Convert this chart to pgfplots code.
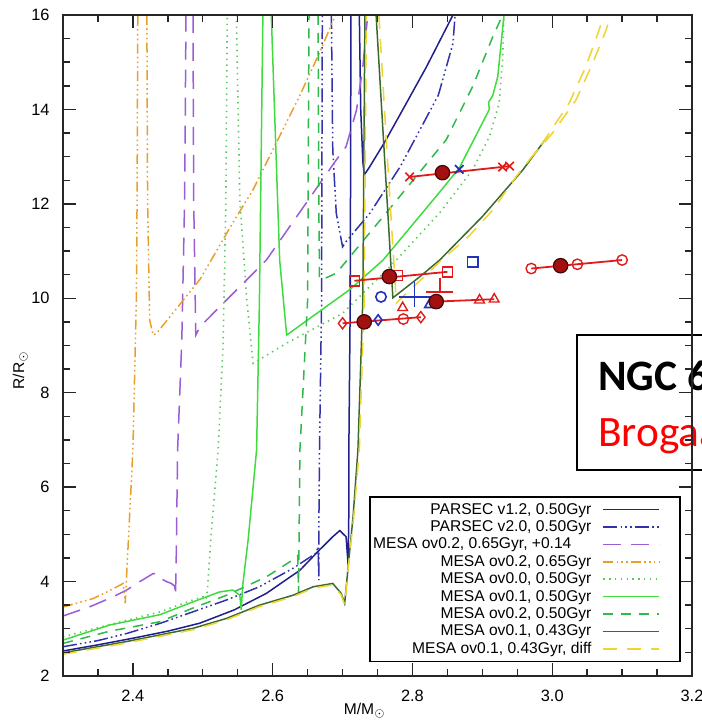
\documentclass[border=0pt]{standalone}
\usepackage{fontspec}
\setmainfont{Liberation Sans}
\newfontfamily\carlito{Carlito}
\usepackage{pgfplots}
\pgfplotsset{compat=1.18}

\definecolor{navy}{HTML}{20208C}
\definecolor{navy2}{HTML}{3232AA}
\definecolor{purp}{HTML}{9B5CD6}
\definecolor{orng}{HTML}{E8A02A}
\definecolor{gdot}{HTML}{5CC85C}
\definecolor{gsol}{HTML}{3FDC3F}
\definecolor{gdash}{HTML}{30B84A}
\definecolor{dkg}{HTML}{3B6A2E}
\definecolor{yel}{HTML}{F0D430}
\definecolor{rd}{HTML}{E01B1B}
\definecolor{dkr}{HTML}{A31010}
\definecolor{bl}{HTML}{2233BB}

\begin{document}
\begin{tikzpicture}
\begin{axis}[
  name=ax,
  scale only axis, width=314.5pt, height=330.5pt,
  xmin=2.3, xmax=3.2, ymin=2, ymax=16,
  xtick={2.2,2.4,2.6,2.8,3.0,3.2}, ytick={2,4,6,8,10,12,14,16},
  minor x tick num=3, minor y tick num=3,
  tick align=inside, xtick pos=both, ytick pos=both,
  xticklabel pos=lower, yticklabel pos=left,
  major tick length=6.5pt, minor tick length=3.5pt,
  axis line style={line width=0.9pt, black!85},
  every tick/.style={black!85, line width=0.7pt},
  /pgf/number format/assume math mode=true,
  xticklabel={\pgfmathprintnumber[fixed,fixed zerofill,precision=1]{\tick}},
  tick label style={font=\fontsize{8.2}{9}\selectfont},
  xticklabel style={inner sep=0pt, yshift=-7pt},
  yticklabel style={inner sep=0pt, xshift=-6.5pt},
  xlabel={M/M$_\odot$}, ylabel={R/R$_\odot$},
  label style={font=\fontsize{7.8}{9}\selectfont},
  xlabel style={at={(axis description cs:0.48,-0.053)}, anchor=center},
  ylabel style={at={(axis description cs:-0.068,0.463)}, anchor=center},
  unbounded coords=jump,
  clip=false,
  axis on top,
  legend style={at={(0.9825,0.2723)}, anchor=north east, draw=black, line width=0.8pt,
    fill=white, font=\fontsize{7.8}{8}\selectfont, inner xsep=1pt, inner ysep=2pt,
    row sep=0pt, column sep=5pt,
    nodes={inner sep=0.6pt, text height=6pt, text depth=1.5pt}},
  legend cell align=right,
  legend plot pos=right,
  legend image code/.code={\draw[#1,line width=0.8pt] (0pt,0pt) -- (28pt,0pt); \path (37pt,0pt);},
]
% 1 PARSEC v1.2
\addplot[navy, line width=0.75pt] coordinates {
(2.300,2.53) (2.350,2.66) (2.400,2.80) (2.450,2.95) (2.496,3.12) (2.545,3.40)
(2.591,3.75) (2.639,4.24) (2.667,4.67) (2.686,4.95) (2.696,5.08) (2.705,4.95)
(2.708,4.35) (2.709,5.5) (2.709,6.79) (2.711,9.96) (2.712,16)
(2.72,nan)
(2.724,16) (2.726,14.0) (2.729,12.9) (2.731,12.61) (2.739,12.79) (2.760,13.3)
(2.786,13.99) (2.820,14.90) (2.858,16)};
\addlegendentry{PARSEC v1.2, 0.50Gyr}
% 2 PARSEC v2.0
\addplot[navy2, line width=0.75pt, dash pattern=on 7pt off 1.6pt on 0.8pt off 1.6pt on 0.8pt off 1.6pt on 0.8pt off 1.6pt] coordinates {
(2.300,2.62) (2.350,2.75) (2.391,2.90) (2.440,3.12) (2.486,3.36) (2.534,3.61)
(2.581,3.89) (2.629,4.28) (2.662,4.60) (2.665,4.74) (2.666,4.03) (2.666,5.0)
(2.667,6.79) (2.670,9.96) (2.671,16)
(2.68,nan)
(2.684,16) (2.686,13.14) (2.691,11.80) (2.700,11.09) (2.705,11.2) (2.739,11.80)
(2.783,12.8) (2.837,14.3) (2.858,15.40) (2.861,16)};
\addlegendentry{PARSEC v2.0, 0.50Gyr}
% 3 MESA ov0.2 0.65 +0.14
\addplot[purp, line width=0.75pt, dash pattern=on 9pt off 5pt] coordinates {
(2.300,3.27) (2.339,3.47) (2.372,3.68) (2.391,3.82) (2.410,4.00) (2.429,4.17)
(2.434,4.17) (2.439,4.07) (2.448,4.00) (2.455,3.96) (2.460,3.90) (2.461,3.70)
(2.462,4.5) (2.464,6.79) (2.470,9.12) (2.474,12.08) (2.476,16)
(2.48,nan)
(2.486,16) (2.487,12.08) (2.490,9.22) (2.496,9.40) (2.591,10.81) (2.691,12.93)
(2.705,13.21) (2.720,13.99) (2.729,14.90) (2.736,16)};
\addlegendentry{MESA ov0.2, 0.65Gyr, +0.14\hspace*{10pt}}
% 4 MESA ov0.2 0.65
\addplot[orng, line width=0.75pt, dash pattern=on 5pt off 1.6pt on 0.8pt off 1.6pt on 0.8pt off 1.6pt on 0.8pt off 1.6pt] coordinates {
(2.300,3.46) (2.343,3.64) (2.367,3.81) (2.386,3.96) (2.389,3.54) (2.394,5.0)
(2.400,6.79) (2.405,10.0) (2.406,12.08) (2.407,16)
(2.41,nan)
(2.420,16) (2.421,12.08) (2.424,9.54) (2.429,9.22) (2.434,9.26) (2.496,10.4)
(2.543,11.6) (2.572,12.3) (2.639,14.3) (2.667,15.2) (2.690,16)};
\addlegendentry{MESA ov0.2, 0.65Gyr}
% 5 MESA ov0.0 0.50
\addplot[gdot, line width=0.8pt, dash pattern=on 0.7pt off 2.2pt] coordinates {
(2.300,2.83) (2.370,3.10) (2.439,3.36) (2.480,3.58) (2.500,3.68) (2.505,3.62)
(2.507,3.9) (2.512,5.0) (2.522,6.79) (2.529,9.0) (2.533,12.0) (2.535,16)
(2.54,nan)
(2.548,16) (2.553,12.08) (2.563,9.96) (2.572,8.62) (2.620,9.05) (2.700,9.68)
(2.770,10.7) (2.839,11.81) (2.886,12.72) (2.910,13.42) (2.924,14.13) (2.929,15.05) (2.931,16)};
\addlegendentry{MESA ov0.0, 0.50Gyr}
% 6 MESA ov0.1 0.50
\addplot[gsol, line width=0.75pt] coordinates {
(2.300,2.76) (2.367,3.08) (2.439,3.30) (2.486,3.57) (2.524,3.78) (2.543,3.82)
(2.553,3.71) (2.555,3.40) (2.557,3.9) (2.565,4.9) (2.577,6.79) (2.581,9.9) (2.586,16)
(2.59,nan)
(2.598,16) (2.610,10.81) (2.620,9.22) (2.710,10.18) (2.758,10.81) (2.839,12.25)
(2.867,12.76) (2.900,13.71) (2.910,14.0) (2.909,14.15) (2.915,14.3) (2.922,14.69) (2.931,16)};
\addlegendentry{MESA ov0.1, 0.50Gyr}
% 7 MESA ov0.2 0.50
\addplot[gdash, line width=0.75pt, dash pattern=on 5pt off 4pt] coordinates {
(2.300,2.69) (2.367,2.95) (2.439,3.15) (2.486,3.44) (2.534,3.71) (2.591,4.10)
(2.629,4.46) (2.636,4.55) (2.637,3.75) (2.639,6.79) (2.650,9.96) (2.652,16)
(2.66,nan)
(2.665,16) (2.666,12.0) (2.667,10.46) (2.670,10.39) (2.691,10.53) (2.762,11.80)
(2.848,13.35) (2.886,14.48) (2.915,15.54) (2.929,16)};
\addlegendentry{MESA ov0.2, 0.50Gyr}
% 8 MESA ov0.1 0.43
\addplot[dkg, line width=0.75pt] coordinates {
(2.300,2.49) (2.391,2.73) (2.486,3.01) (2.534,3.22) (2.581,3.50) (2.629,3.71)
(2.658,3.89) (2.686,3.96) (2.698,3.75) (2.703,3.54) (2.708,4.31) (2.715,5.37)
(2.722,6.79) (2.729,9.96) (2.732,16)
(2.74,nan)
(2.748,16) (2.760,13.0) (2.772,10.01) (2.810,10.45) (2.839,10.81) (2.900,11.73)
(2.958,12.72) (2.993,13.42)};
\addlegendentry{MESA ov0.1, 0.43Gyr}
% 9 MESA ov0.1 0.43 diff
\addplot[yel, line width=0.75pt, dash pattern=on 7pt off 5pt] coordinates {
(2.300,2.46) (2.391,2.70) (2.486,2.98) (2.534,3.19) (2.581,3.47) (2.629,3.68)
(2.658,3.86) (2.686,3.93) (2.698,3.72) (2.703,3.51) (2.708,4.28) (2.716,5.37)
(2.724,6.79) (2.731,9.96) (2.734,16)
(2.74,nan)
(2.752,16) (2.764,13.0) (2.777,9.90) (2.839,10.77) (2.881,11.32) (2.915,11.87)
(2.948,12.57) (2.986,13.28) (3.024,14.13) (3.048,14.90) (3.067,15.68) (3.074,16)
(3.0,nan)
(2.967,12.93) (3.000,13.49) (3.034,14.20) (3.058,14.98) (3.077,15.68) (3.084,16)};
\addlegendentry{MESA ov0.1, 0.43Gyr, diff}

% observed stars: red error lines
\addplot[rd, line width=0.9pt, forget plot] coordinates {(2.796,12.57) (2.940,12.80)};
\addplot[rd, line width=0.9pt, forget plot] coordinates {(2.970,10.63) (3.100,10.81)};
\addplot[rd, line width=0.9pt, forget plot] coordinates {(2.717,10.37) (2.850,10.56)};
\addplot[rd, line width=0.9pt, forget plot] coordinates {(2.834,9.93) (2.917,9.98)};
\addplot[rd, line width=0.9pt, forget plot] coordinates {(2.700,9.47) (2.812,9.60)};
\addplot[rd, line width=0.9pt, forget plot] coordinates {(2.820,10.14) (2.858,10.14)};
\addplot[rd, line width=0.9pt, forget plot] coordinates {(2.839,10.14) (2.839,10.42)};
% blue cross
\addplot[bl, line width=0.9pt, forget plot] coordinates {(2.781,10.03) (2.831,10.03)};
\addplot[bl, line width=0.9pt, forget plot] coordinates {(2.803,9.82) (2.803,10.35)};
% red markers
\addplot[only marks, rd, mark=x, mark size=3pt, line width=0.8pt, forget plot] coordinates {(2.796,12.57) (2.929,12.78) (2.939,12.80)};
\addplot[only marks, rd, mark=o, mark size=2.6pt, line width=0.7pt, forget plot] coordinates {(2.970,10.63) (3.036,10.72) (3.100,10.81) (2.787,9.56)};
\addplot[only marks, rd, mark=square, mark size=2.5pt, line width=0.7pt, forget plot] coordinates {(2.717,10.37) (2.779,10.48) (2.850,10.56)};
\addplot[only marks, rd, mark=triangle, mark size=2.8pt, line width=0.7pt, forget plot] coordinates {(2.786,9.80) (2.896,9.96) (2.917,9.98)};
\addplot[only marks, rd, mark=diamond, mark size=2.8pt, line width=0.7pt, forget plot] coordinates {(2.700,9.47) (2.812,9.60)};
% blue markers
\addplot[only marks, bl, mark=x, mark size=3pt, line width=0.9pt, forget plot] coordinates {(2.867,12.73)};
\addplot[only marks, bl, mark=square, mark size=2.6pt, line width=0.8pt, forget plot] coordinates {(2.886,10.77)};
\addplot[only marks, bl, mark=o, mark size=2.6pt, line width=0.8pt, forget plot] coordinates {(2.755,10.03)};
\addplot[only marks, bl, mark=triangle, mark size=2.6pt, line width=0.8pt, forget plot] coordinates {(2.824,9.86)};
\addplot[only marks, bl, mark=diamond, mark size=2.6pt, line width=0.8pt, forget plot] coordinates {(2.751,9.54)};
% filled circles
\addplot[only marks, mark=*, mark size=3.6pt, mark options={fill=dkr, draw=black!60!dkr, line width=0.6pt}, forget plot] coordinates {
(2.843,12.66) (3.012,10.69) (2.767,10.46) (2.834,9.93) (2.731,9.50)};

% overlaid text box
\draw[line width=1pt, fill=white] (axis cs:3.0357,6.36) rectangle (axis cs:3.40,9.22);
\node[anchor=base west, inner sep=0pt, font=\carlito\bfseries\fontsize{21.7}{26}\selectfont] at (axis cs:3.0653,8.057) {NGC 6866};
\node[anchor=base west, inner sep=0pt, text=red, font=\carlito\fontsize{21.7}{26}\selectfont] at (axis cs:3.0653,6.871) {Brogaard et al.};
\end{axis}
\pgfresetboundingbox
\useasboundingbox ([shift={(-31.5pt,-24.5pt)}]ax.south west) rectangle ([shift={(4.5pt,7.5pt)}]ax.north east);
\end{tikzpicture}
\end{document}
